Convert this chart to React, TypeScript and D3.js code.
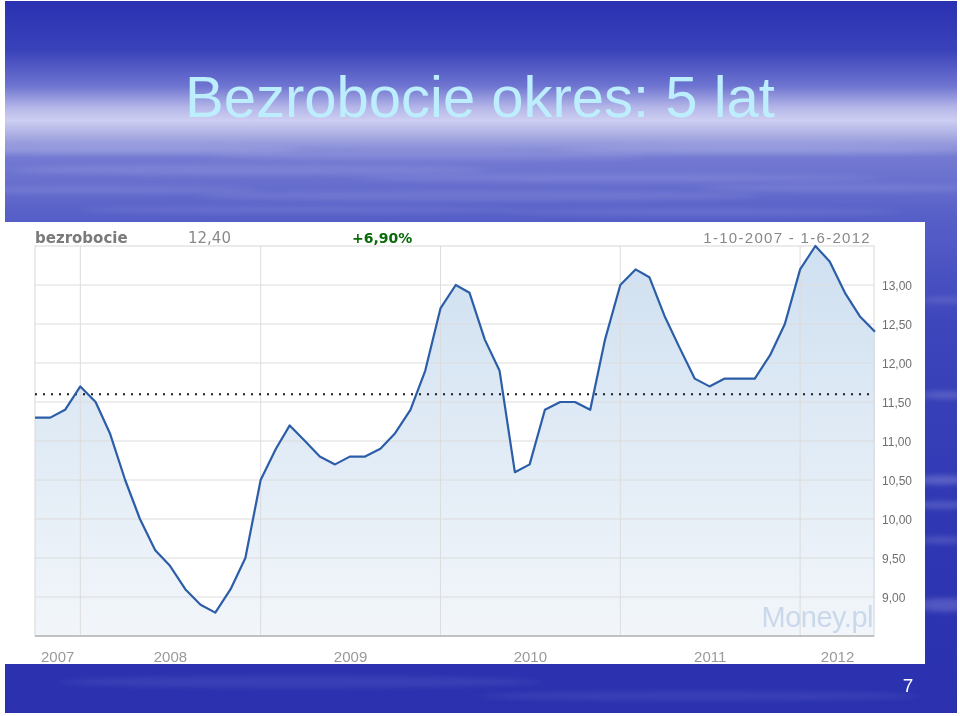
import React from "react";
import * as d3 from "d3";

// Monthly unemployment rate (%), Oct 2007 – Jun 2012
const startMonth = new Date(2007, 9, 1);
const endMonth = new Date(2012, 5, 1);
const rate2007 = [11.3, 11.3, 11.4];
const rate2008 = [11.7, 11.5, 11.1, 10.5, 10.0, 9.6, 9.4, 9.1, 8.9, 8.8, 9.1, 9.5];
const rate2009 = [10.5, 10.9, 11.2, 11.0, 10.8, 10.7, 10.8, 10.8, 10.9, 11.1, 11.4, 11.9];
const rate2010 = [12.7, 13.0, 12.9, 12.3, 11.9, 10.6, 10.7, 11.4, 11.5, 11.5, 11.4, 12.3];
const rate2011 = [13.0, 13.2, 13.1, 12.6, 12.2, 11.8, 11.7, 11.8, 11.8, 11.8, 12.1, 12.5];
const rate2012 = [13.2, 13.5, 13.3, 12.9, 12.6, 12.4];
const referenceValue = 11.6;
const yTicks = [9.0, 9.5, 10.0, 10.5, 11.0, 11.5, 12.0, 12.5, 13.0];
const yearLabels = [2007, 2008, 2009, 2010, 2011, 2012];

const seriesName = "bezrobocie";
const lastValueText = "12,40";
const changeText = "+6,90%";
const rangeText = "1-10-2007 - 1-6-2012";
const titleText = "Bezrobocie okres: 5 lat";
const slideNumber = "7";

const values = [...rate2007, ...rate2008, ...rate2009, ...rate2010, ...rate2011, ...rate2012];
const points = values.map((v, i) => ({
  date: d3.timeMonth.offset(startMonth, i),
  value: v,
}));

const plot = { left: 35, right: 875, top: 246, bottom: 636 };

export default function App() {
  const x = d3.scaleTime().domain([startMonth, endMonth]).range([plot.left, plot.right]);
  const y = d3.scaleLinear().domain([8.5, 13.5]).range([plot.bottom, plot.top]);

  const line = d3
    .line<{ date: Date; value: number }>()
    .x((d) => x(d.date))
    .y((d) => y(d.value));
  const area = d3
    .area<{ date: Date; value: number }>()
    .x((d) => x(d.date))
    .y0(plot.bottom)
    .y1((d) => y(d.value));

  const yearStarts = yearLabels.slice(1).map((yr) => new Date(yr, 0, 1));
  const fmt = (v: number) => v.toFixed(2).replace(".", ",");

  const labelX = (yr: number) => {
    const a = Math.max(+startMonth, +new Date(yr, 0, 1));
    const b = Math.min(+endMonth, +new Date(yr + 1, 0, 1));
    return (x(new Date(a)) + x(new Date(b))) / 2;
  };

  // soft water ripples on the slide background: [cx, cy, rx, ry, opacity]
  const ripples = [
    [120, 150, 180, 4, 0.14], [430, 156, 220, 4, 0.12], [760, 150, 200, 4, 0.14],
    [250, 170, 240, 5, 0.12], [620, 178, 260, 4, 0.12], [90, 190, 170, 4, 0.1],
    [480, 196, 280, 5, 0.11], [850, 188, 150, 4, 0.12], [300, 210, 220, 4, 0.09],
    [700, 212, 200, 4, 0.09],
    [942, 480, 30, 5, 0.22], [942, 505, 30, 4, 0.18], [945, 605, 30, 7, 0.2],
    [942, 540, 25, 4, 0.15], [945, 395, 25, 4, 0.18], [945, 300, 25, 4, 0.12],
    [300, 682, 240, 6, 0.08], [700, 696, 220, 5, 0.08],
  ];

  return (
    <svg
      width={960}
      height={716}
      style={{ position: "absolute", left: 0, top: 0, display: "block" }}
      fontFamily="'Liberation Sans', Arial, sans-serif"
    >
      <defs>
        <linearGradient id="sky" x1="0" y1="0" x2="0" y2={716} gradientUnits="userSpaceOnUse">
          <stop offset="0" stopColor="#2a31b2" />
          <stop offset="0.07" stopColor="#3a42ba" />
          <stop offset="0.12" stopColor="#6e74d0" />
          <stop offset="0.15" stopColor="#b4b6e8" />
          <stop offset="0.168" stopColor="#cdcef1" />
          <stop offset="0.19" stopColor="#a9ace3" />
          <stop offset="0.22" stopColor="#747ad2" />
          <stop offset="0.3" stopColor="#5760c8" />
          <stop offset="0.45" stopColor="#3e46bc" />
          <stop offset="0.7" stopColor="#3038b4" />
          <stop offset="1" stopColor="#2a30ae" />
        </linearGradient>
        <linearGradient id="fill" x1="0" y1={plot.top} x2="0" y2={plot.bottom} gradientUnits="userSpaceOnUse">
          <stop offset="0" stopColor="#cfe0f1" />
          <stop offset="1" stopColor="#f2f6fa" />
        </linearGradient>
        <filter id="soft" x="-30%" y="-300%" width="160%" height="700%">
          <feGaussianBlur stdDeviation="8 2.5" />
        </filter>
      </defs>

      <rect x={0} y={0} width={960} height={716} fill="#ffffff" />
      <rect x={5} y={1} width={952} height={712} fill="url(#sky)" />
      <g filter="url(#soft)">
        {ripples.map(([cx, cy, rx, ry, op], i) => (
          <ellipse key={i} cx={cx} cy={cy} rx={rx} ry={ry} fill="#e6e8ff" opacity={op} />
        ))}
      </g>

      <text x={185} y={117} fontSize={58} fill="#bdeefd">
        {titleText}
      </text>

      {/* chart panel */}
      <rect x={5} y={222} width={920} height={442} fill="#ffffff" />

      <text x={35} y={243} fontFamily="'DejaVu Sans', Verdana, sans-serif" fontWeight="bold" fontSize={15} fill="#7a7a7a">
        {seriesName}
      </text>
      <text x={188} y={243} fontFamily="'DejaVu Sans', Verdana, sans-serif" fontSize={15} fill="#8a8a8a">
        {lastValueText}
      </text>
      <text x={352} y={243} fontFamily="'DejaVu Sans', Verdana, sans-serif" fontWeight="bold" fontSize={14} fill="#0a6a0a">
        {changeText}
      </text>
      <text x={871} y={243} textAnchor="end" fontSize={15} fill="#888888" letterSpacing={1.3}>
        {rangeText}
      </text>

      <path d={area(points) ?? ""} fill="url(#fill)" />

      {/* grid */}
      {yTicks.map((t) => (
        <line key={t} x1={plot.left} x2={plot.right - 1} y1={y(t)} y2={y(t)} stroke="#dcdcdc" strokeWidth={1} />
      ))}
      {yearStarts.map((d) => (
        <line key={+d} x1={x(d)} x2={x(d)} y1={plot.top} y2={plot.bottom} stroke="#dcdcdc" strokeWidth={1} />
      ))}
      <rect
        x={plot.left}
        y={plot.top}
        width={plot.right - 1 - plot.left}
        height={plot.bottom - plot.top}
        fill="none"
        stroke="#d8d8d8"
        strokeWidth={1}
      />
      <line x1={plot.left} x2={plot.right - 1} y1={plot.bottom} y2={plot.bottom} stroke="#b4b4b4" strokeWidth={1.5} />

      <text x={873} y={627} textAnchor="end" fontSize={29} fill="#c9d8ea" letterSpacing={-0.5}>
        Money.pl
      </text>

      <line
        x1={plot.left}
        x2={plot.right - 5}
        y1={y(referenceValue)}
        y2={y(referenceValue)}
        stroke="#1a1a1a"
        strokeWidth={2}
        strokeDasharray="2,6"
      />

      <path d={line(points) ?? ""} fill="none" stroke="#2c5ea8" strokeWidth={2.2} strokeLinejoin="round" />

      {yTicks.map((t) => (
        <text key={t} x={882} y={y(t) + 4.5} fontSize={12} fill="#707070">
          {fmt(t)}
        </text>
      ))}
      {yearLabels.map((yr) => (
        <text key={yr} x={labelX(yr)} y={662} textAnchor="middle" fontSize={15} fill="#9a9a9a">
          {yr}
        </text>
      ))}

      <text x={908} y={692} textAnchor="middle" fontSize={19} fill="#ffffff">
        {slideNumber}
      </text>
    </svg>
  );
}
